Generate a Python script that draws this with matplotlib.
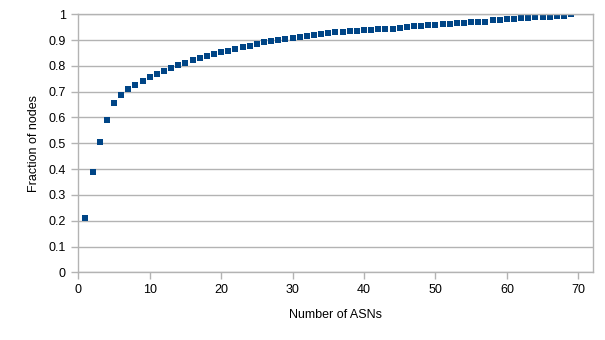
import matplotlib
matplotlib.use('Agg')
import matplotlib.pyplot as plt
import numpy as np

asns = np.arange(1, 70)
fraction = [0.209, 0.390, 0.504, 0.591, 0.655, 0.686, 0.709, 0.727, 0.743, 0.756,
            0.769, 0.779, 0.793, 0.802, 0.812, 0.822, 0.829, 0.837, 0.845, 0.853,
            0.859, 0.864, 0.872, 0.878, 0.885, 0.891, 0.895, 0.899, 0.903, 0.907,
            0.911, 0.915, 0.921, 0.925, 0.926, 0.930, 0.930, 0.934, 0.934, 0.938,
            0.940, 0.942, 0.943, 0.944, 0.947, 0.950, 0.953, 0.953, 0.957, 0.957,
            0.961, 0.962, 0.965, 0.966, 0.969, 0.970, 0.972, 0.976, 0.976, 0.980,
            0.980, 0.984, 0.986, 0.988, 0.991, 0.991, 0.995, 0.995, 1.000]
xticks = [0, 10, 20, 30, 40, 50, 60, 70]
yticks = [0, 0.1, 0.2, 0.3, 0.4, 0.5, 0.6, 0.7, 0.8, 0.9, 1]
ytick_labels = ['0', '0.1', '0.2', '0.3', '0.4', '0.5', '0.6', '0.7', '0.8', '0.9', '1']

plt.rcParams['font.family'] = ['Liberation Sans', 'DejaVu Sans']
grey = '#b3b3b3'

fig = plt.figure(figsize=(6.05, 3.4), dpi=100)
ax = fig.add_axes([0.1294, 0.1991, 0.8513, 0.7589])
ax.plot(asns, fraction, linestyle='none', marker='s', markersize=4.3,
        color='#004586', markeredgewidth=0)

ax.set_xlim(0, 72.1)
ax.set_ylim(0, 1)
ax.set_xticks(xticks)
ax.set_yticks(yticks)
ax.set_yticklabels(ytick_labels)
ax.yaxis.grid(True, color=grey, linewidth=1)
ax.set_axisbelow(True)
for s in ax.spines.values():
    s.set_color(grey)
    s.set_linewidth(1)
ax.tick_params(axis='both', colors=grey, labelcolor='black', labelsize=9,
               length=5, width=1, direction='out')
ax.tick_params(axis='y', pad=4)

ax.set_xlabel('Number of ASNs', fontsize=9, labelpad=9)
ax.set_ylabel('Fraction of nodes', fontsize=9, labelpad=6)

fig.savefig('out.png', dpi=100)
